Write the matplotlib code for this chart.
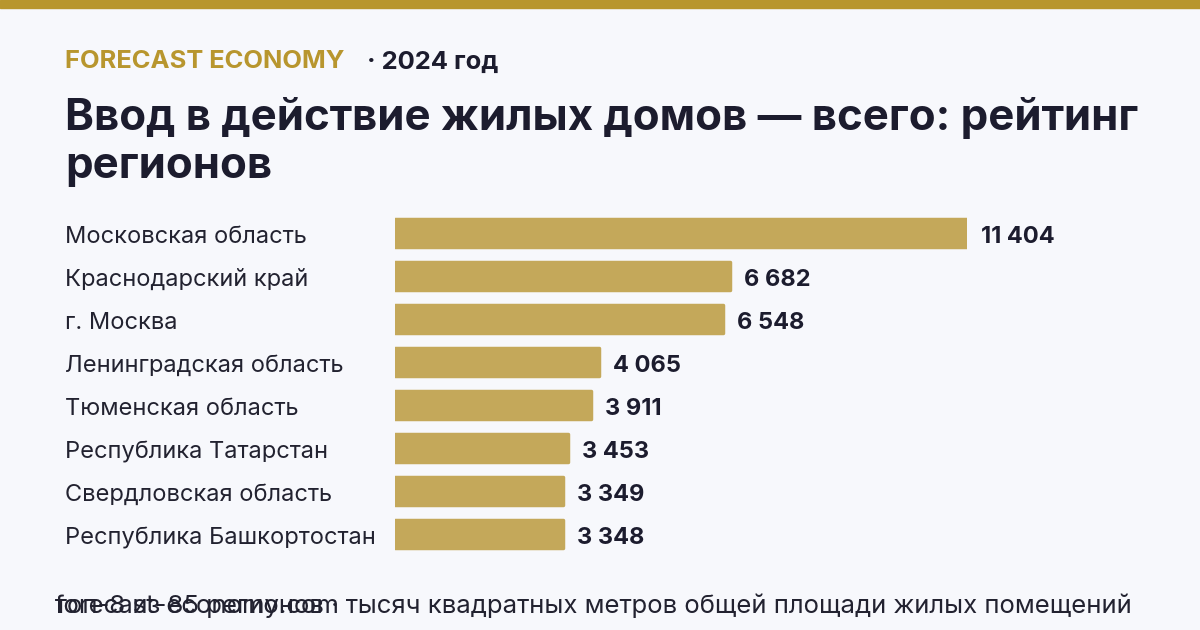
import matplotlib.pyplot as plt

plt.rcParams['font.family'] = ['Inter', 'DejaVu Sans']

regions = ['Московская область', 'Краснодарский край', 'г. Москва',
           'Ленинградская область', 'Тюменская область', 'Республика Татарстан',
           'Свердловская область', 'Республика Башкортостан']
values = [11404, 6682, 6548, 4065, 3911, 3453, 3349, 3348]
value_labels = ['11 404', '6 682', '6 548', '4 065', '3 911', '3 453', '3 349', '3 348']

W, H = 1200, 630
bg = '#F7F8FC'
gold = '#B8962E'
bar_col = '#C4A85A'
dark = '#1C1C2E'

fig = plt.figure(figsize=(12, 6.3), dpi=100, facecolor=bg)

# top stripe
fig.patches.append(plt.Rectangle((0, 1 - 8 / H), 1, 8 / H, transform=fig.transFigure,
                                 color=gold, zorder=0))

fig.text(65 / W, 1 - 62 / H, 'FORECAST ECONOMY', color=gold, fontsize=18.4,
         fontweight='bold', va='center')
fig.text(367 / W, 1 - 62 / H, '· 2024 год', color=dark, fontsize=18.4,
         fontweight='bold', va='center')

fig.text(65 / W, 1 - 118 / H, 'Ввод в действие жилых домов — всего: рейтинг',
         color=dark, fontsize=31.5, fontweight='bold', va='center')
fig.text(65 / W, 1 - 167 / H, 'регионов', color=dark, fontsize=31.5,
         fontweight='bold', va='center')

# axes: bars from x=395 to 967 px for the max value
top_px, step = 233, 43
ax = fig.add_axes([395 / W, 1 - (top_px + step * 7.5) / H, (967 - 395) / W, step * 8 / H])
ax.set_facecolor('none')
ax.set_xlim(0, max(values))
ax.set_ylim(len(values) - 0.5, -0.5)
ax.axis('off')

ypos = list(range(len(values)))
ax.barh(ypos, values, height=0.64, color=bar_col, edgecolor=bar_col,
        linewidth=2.5, joinstyle='round')

for y, v, lab, name in zip(ypos, values, value_labels, regions):
    ax.annotate(lab, (v, y), xytext=(14, -4), textcoords='offset pixels',
                va='center', ha='left', fontsize=17, fontweight='bold', color=dark)
    ax.annotate(name, (0, y), xytext=(65 - 395, -4), textcoords='offset pixels',
                va='center', ha='left', fontsize=17, color='#222230')

# footer (two overlapping texts, as in source)
fig.text(55 / W, 1 - 606 / H, 'forecast-economy.com', color='#222230', fontsize=18.5,
         va='center', ha='left')
fig.text(55 / W, 1 - 606 / H,
         'топ-8 из 85 регионов · тысяч квадратных метров общей площади жилых помещений',
         color='#222230', fontsize=18.5, va='center', ha='left')

fig.savefig('out.png', dpi=100, facecolor=bg)
